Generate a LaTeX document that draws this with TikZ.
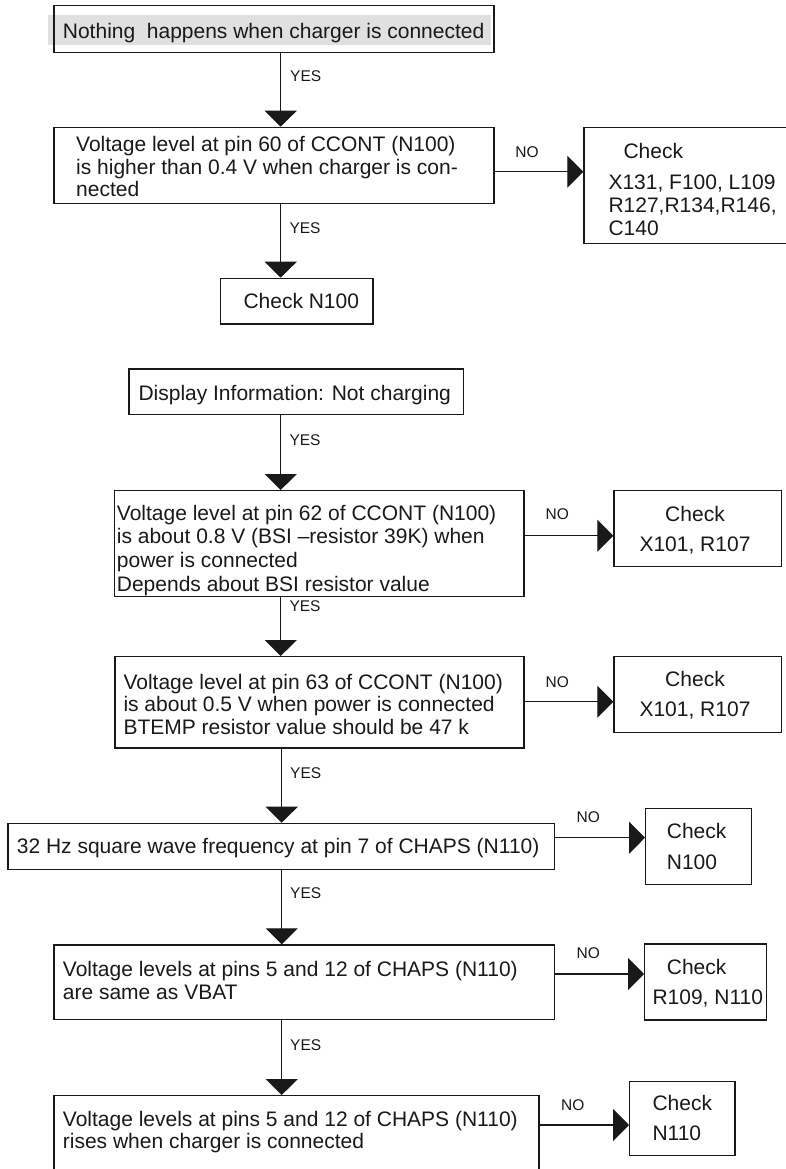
\documentclass[tikz,border=0pt]{standalone}
\usepackage{fontspec}
\setmainfont{Liberation Sans}
\usetikzlibrary{arrows.meta}

% stacked lines: #1 = line pitch, #2 = rows separated by \cr
\newcommand{\leftrows}[2]{\vtop{\baselineskip=#1\lineskiplimit=-100pt\lineskip=0pt\halign{##\hfil\cr#2\crcr}}}
\newcommand{\centerrows}[2]{\vtop{\baselineskip=#1\lineskiplimit=-100pt\lineskip=0pt\halign{\hfil##\hfil\cr#2\crcr}}}

\tikzset{
  box/.style={draw=black!90, line width=1.3pt, inner sep=0pt, anchor=north west},
  txt/.style={inner sep=0pt, anchor=base west, text=black!90, font=\fontsize{21}{22.5}\selectfont},
  ctxt/.style={txt, anchor=base},
  lbl/.style={inner sep=0pt, anchor=west, text=black!90, font=\fontsize{15.5}{18}\selectfont},
  nolbl/.style={lbl, anchor=center},
  arr/.style={draw=black!90, line width=1.3pt, -{Triangle[length=16pt,width=32pt]}},
}

\begin{document}
\begin{tikzpicture}[x=1pt,y=-1pt]
\useasboundingbox (0,0) rectangle (785,1169);

% guide coordinates for connector routes
\coordinate (s1) at (280.7,0);
\coordinate (s2) at (281.7,0);
\coordinate (nB) at (0,171.7);
\coordinate (nF) at (0,535.7);
\coordinate (nH) at (0,701.7);
\coordinate (nJ) at (0,837.7);
\coordinate (nL) at (0,974);
\coordinate (nN) at (0,1125);

% ---- first chart ----
\fill[black!12] (48.3,15) rectangle (491,45);
\node[box, minimum width=440pt, minimum height=46.7pt] (A) at (53.3,5) {};
\node[txt] (At) at (62.7,38.3) {Nothing~ happens when charger is connected};

\node[box, minimum width=440pt, minimum height=76pt] (B) at (53.3,126.7) {};
\node[txt] (Bt) at (76,151.7) {\leftrows{22.5pt}{Voltage level at pin 60 of CCONT (N100)\cr is higher than 0.4 V when charger is con-\cr nected}};

\node[box, minimum width=216.7pt, minimum height=116pt] (C) at (583.3,126.7) {};
\node[txt] (Ct) at (608.3,158.3) {\leftrows{22.9pt}{\hspace*{15pt}Check\cr\noalign{\vskip 8.1pt}X131, F100, L109\cr R127,R134,R146,\cr C140}};

\node[box, minimum width=152.3pt, minimum height=45.6pt] (D) at (220,277.7) {};
\node[txt] (Dt) at (243.3,308.3) {Check N100};

\draw[arr] (A.south -| s1) -- (B.north -| s1);
\draw[arr] (B.east |- nB) -- (C.west |- nB);
\draw[arr] (B.south -| s1) -- (D.north -| s1);

\node[lbl] (y1) at (290,76.5) {YES};
\node[nolbl] (n1) at (527,151.7) {NO};
\node[lbl] (y2) at (289.3,227.7) {YES};

% ---- second chart ----
\node[box, minimum width=334.4pt, minimum height=45.7pt] (E) at (128.3,368.3) {};
\node[txt] (Et) at (138.3,400) {Display Information: Not charging};

\node[box, minimum width=409.3pt, minimum height=106pt] (F) at (114,490) {};
\node[txt] (Ft) at (116.7,520) {\leftrows{23.9pt}{Voltage level at pin 62 of CCONT (N100)\cr is about 0.8 V (BSI –resistor 39K) when\cr power is connected\cr Depends about BSI resistor value}};

\node[box, minimum width=167.4pt, minimum height=76pt] (G) at (613.3,490) {};
\node[ctxt] (Gt) at (695,521.7) {\centerrows{30pt}{Check\cr X101, R107}};

\node[box, minimum width=409pt, minimum height=91.3pt] (H) at (114.3,656) {};
\node[txt] (Ht) at (123.3,689.3) {\leftrows{22.4pt}{Voltage level at pin 63 of CCONT (N100)\cr is about 0.5 V when power is connected\cr BTEMP resistor value should be 47 k}};

\node[box, minimum width=167.4pt, minimum height=75.7pt] (I) at (613.3,656) {};
\node[ctxt] (It) at (695,686.7) {\centerrows{29.3pt}{Check\cr X101, R107}};

\node[box, minimum width=546.7pt, minimum height=46.3pt] (J) at (7.3,822.7) {};
\node[txt] (Jt) at (16.7,853.3) {32 Hz square wave frequency at pin 7 of CHAPS (N110)};

\node[box, minimum width=105.7pt, minimum height=76.3pt] (K) at (645,807.7) {};
\node[txt] (Kt) at (666.7,838.3) {\leftrows{31pt}{Check\cr N100}};

\node[box, minimum width=500.7pt, minimum height=74.7pt] (L) at (53.3,944.3) {};
\node[txt] (Lt) at (62.7,976) {\leftrows{23.3pt}{Voltage levels at pins 5 and 12 of CHAPS (N110)\cr are same as VBAT}};

\node[box, minimum width=121.7pt, minimum height=76pt] (M) at (644,943.3) {};
\node[txt] (Mt) at (652.3,974) {\leftrows{30pt}{\hspace*{14.4pt}Check\cr R109, N110}};

\node[box, minimum width=485pt, minimum height=85pt] (N) at (53.3,1095) {};
\node[txt] (Nt) at (62.7,1126.7) {\leftrows{21.7pt}{Voltage levels at pins 5 and 12 of CHAPS (N110)\cr rises when charger is connected}};

\node[box, minimum width=105.3pt, minimum height=74.3pt] (O) at (629,1080.7) {};
\node[txt] (Ot) at (652.3,1110.7) {\leftrows{30pt}{Check\cr N110}};

% connectors
\draw[arr] (E.south -| s1) -- (F.north -| s1);
\draw[arr] (F.south -| s1) -- (H.north -| s1);
\draw[arr] (H.south -| s2) -- (J.north -| s2);
\draw[arr] (J.south -| s2) -- (L.north -| s2);
\draw[arr] (L.south -| s2) -- (N.north -| s2);
\draw[arr] (F.east |- nF) -- (G.west |- nF);
\draw[arr] (H.east |- nH) -- (I.west |- nH);
\draw[arr] (J.east |- nJ) -- (K.west |- nJ);
\draw[arr] (L.east |- nL) -- (M.west |- nL);
\draw[arr] (N.east |- nN) -- (O.west |- nN);

% connector labels
\node[lbl] (y3) at (289.3,440) {YES};
\node[lbl] (y4) at (289.3,605.7) {YES};
\node[lbl] (y5) at (290,773.3) {YES};
\node[lbl] (y6) at (290,893.3) {YES};
\node[lbl] (y7) at (290,1045) {YES};
\node[nolbl] (n2) at (557.3,514) {NO};
\node[nolbl] (n3) at (557.3,681.7) {NO};
\node[nolbl] (n4) at (588.3,817.3) {NO};
\node[nolbl] (n5) at (588.3,953.3) {NO};
\node[nolbl] (n6) at (572.7,1105) {NO};
\end{tikzpicture}
\end{document}
